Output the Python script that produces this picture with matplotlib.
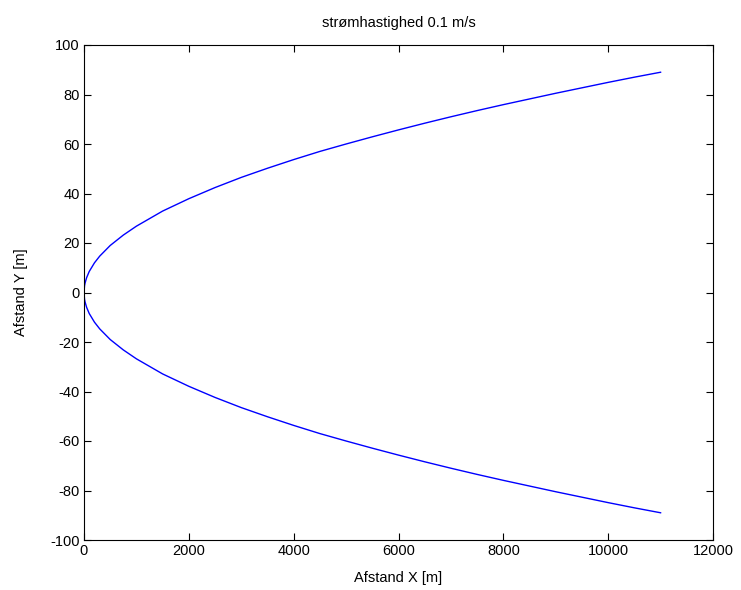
import matplotlib
matplotlib.use("Agg")
import matplotlib.pyplot as plt

x_dist = [0, 10, 20, 50, 100, 200, 300, 500, 750, 1000, 1500, 2000, 2500, 3000, 3500, 4000,
          4500, 5000, 5500, 6000, 6500, 7000, 7500, 8000, 8500, 9000, 9500, 10000, 10500, 11000]
y_upper = [0, 2.7, 3.8, 6.0, 8.5, 12.0, 14.7, 19.0, 23.2, 26.8, 32.9, 37.9, 42.4, 46.5, 50.2, 53.7,
           57.0, 60.0, 62.9, 65.7, 68.4, 71.0, 73.5, 75.9, 78.2, 80.5, 82.7, 84.9, 87.0, 89.0]
y_lower = [0, -2.7, -3.8, -6.0, -8.5, -12.0, -14.7, -19.0, -23.2, -26.8, -32.9, -37.9, -42.4, -46.5, -50.2, -53.7,
           -57.0, -60.0, -62.9, -65.7, -68.4, -71.0, -73.5, -75.9, -78.2, -80.5, -82.7, -84.9, -87.0, -89.0]

xticks = [0, 2000, 4000, 6000, 8000, 10000, 12000]
yticks = [-100, -80, -60, -40, -20, 0, 20, 40, 60, 80, 100]

plt.rcParams['font.family'] = ['Liberation Sans', 'DejaVu Sans']
plt.rcParams['axes.unicode_minus'] = False
fig = plt.figure(figsize=(7.41, 5.90), dpi=100)
ax = fig.add_axes([84/741, 50/590, 629/741, 495/590])

xs = x_dist[::-1] + x_dist[1:]
ys = y_upper[::-1] + y_lower[1:]
ax.plot(xs, ys, color=(0, 0, 1), lw=1.0)

ax.set_xlim(0, 12000)
ax.set_ylim(-100, 100)
ax.set_xticks(xticks)
ax.set_yticks(yticks)
ax.tick_params(direction='in', length=5, width=0.8, top=True, right=True, labelsize=10.5, pad=3,
               colors='black')
for s in ax.spines.values():
    s.set_linewidth(0.8)
ax.set_title('strømhastighed 0.1 m/s', fontsize=10.5, pad=13)
ax.set_xlabel('Afstand X [m]', fontsize=10.5, labelpad=9)
ax.set_ylabel('Afstand Y [m]', fontsize=10.5, labelpad=16)
fig.savefig('out.png', dpi=100)
